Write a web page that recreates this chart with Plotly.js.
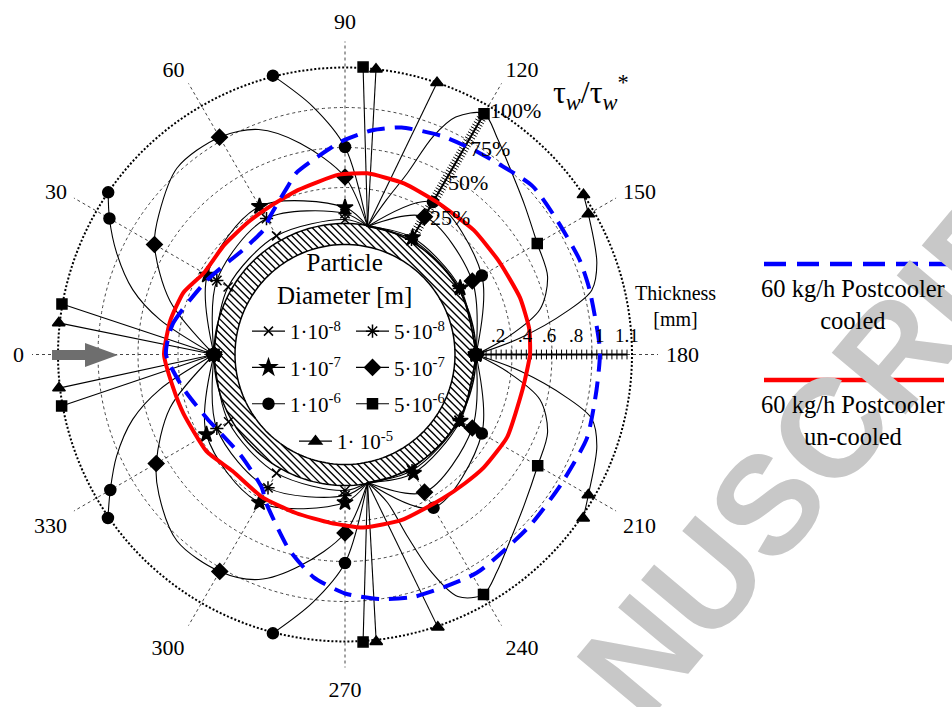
<!DOCTYPE html>
<html><head><meta charset="utf-8">
<script src="https://cdn.plot.ly/plotly-3.0.1.min.js"></script>
<style>html,body{margin:0;padding:0;background:#fff}#chart{width:952px;height:707px}</style>
</head><body><div id="chart"></div>
<script>
// ---------------- data (angle in degrees, radius in chart units) ----------------
const sizeLabels = ['1·10<sup>-8</sup>','5·10<sup>-8</sup>','1·10<sup>-7</sup>','5·10<sup>-7</sup>','1·10<sup>-6</sup>','5·10<sup>-6</sup>','1· 10<sup>-5</sup>'];

const th_1e8 = [0,30,60,90,100,null,100,120,150,180,null,180,210,240,260,null,260,270,300,330,360];
const r_1e8  = [131,135,137,135,130,null,130,131.5,131.5,131,null,131,131.5,132,130,null,130,136,137,134.5,131];

const th_5e8 = [0,30,60,90,100,null,100,120,150,180,null,180,210,240,260,null,260,270,300,330,360];
const r_5e8  = [131,148,157,141,130,null,130,133,132,131,null,131,132,134,130,null,130,141,154,148,131];

const th_1e7 = [0,30,60,90,100,null,100,120,150,180,null,180,210,240,260,null,260,270,300,330,360];
const r_1e7  = [131,159,171,147,130,null,130,135,133,131,null,131,133,137,130,null,130,148,171,160,131];

const th_5e7 = [0,17,30,37,48,60,69,78,90,100,null,100,120,150,180,null,180,210,240,260,null,260,270,282,291,300,312,323,330,343,360];
const r_5e7  = [131,183,220,233,251,251,241,216,177.5,130,null,130,159,147,131,null,131,147,159,130,null,130,178.5,216,241,250.5,251,233,218,183,131];

const th_1e6 = [0,10.6,17,24,30,34.4,null,75.5,82.6,90,100,null,100,120,150,180,null,180,210,240,260,null,260,270,277.4,284.5,null,325.4,330,336,343,349.4,360];
const r_1e6  = [131,188,222,250,272,287,null,288,250,207.5,130,null,130,176,158,131,null,131,158,177,130,null,130,208.5,250,288,null,288,271,250,222,188,131];

const th_5e6 = [0,10.1,null,93.6,100,null,100,105,109,112,115,120,125,131,140,150,159,167,174,180,null,180,186,193,201,210,220,229,235,240,245,248.5,251,254,260,null,260,266.4,null,349.7,360];
const r_5e6  = [131,287.5,null,288,130,null,130,160,192,235,262,278,265,250,234,222,217,200,163,131,null,131,163,200,217,222.5,234,250,265,277,267,232,193,154,130,null,130,288,null,288,131];

const th_1e5 = [0,6.3,null,96.2,100,null,100,108.7,null,146.2,150,160,165.4,169,174.6,180,null,180,185.4,191,194.6,200,210,214.5,null,251.2,260,null,260,263.8,null,353.3,360];
const r_1e5  = [131,288,null,287,130,null,130,287,null,287,281,268,255,226,176,131,null,131,176,226,255,268,281,289,null,288,130,null,130,289,null,288,131];

// deposit thickness curves
const red_th = [0,11,21,30,42,54,63,74,88,97,109,121,136,149,162,172,180,191,207,219,227,236,251,264,275,287,300,314,325,340,349,360];
const red_r  = [181,178,173,163,163,164,166,171,180,182.5,181,178,179,180,184,186,185,181,182,179,176,174,175,174,169,166,165,162,169,172,175,181];
const blue_th = [0,10,28,47,57,62,71,75,89,97,104,114,123,138,148,158,165,179,188,199,211,223,239,254,262,270,278,286,298,302,316,335,348,360];
const blue_r  = [179,175,157,146,149,158,177,188,213,226,234,239,242,252,251,253,253,255,254,256,252,252,255,252,247,239,225,203,168,157,145,152,165,179];

const angleTicks = [0,30,60,90,120,150,180,210,240,270,300,330];
const thickLabels = ['.2','.4','.6','.8','1','1.1'];
const pctLabels = ['25%','50%','75%','100%'];
const seriesNames = ['60 kg/h Postcooler<br>cooled','60 kg/h Postcooler<br>un-cooled'];

// ---------------- helpers ----------------
const W=952, H=707;
const px = x => x/W, py = y => 1 - y/H;
const FONT = 'Liberation Serif, Times New Roman, serif';
const CYL = 131, CYL_IN = 110, BOUND = 287;

function circ(R){ const t=[], r=[]; for(let a=0;a<=360;a+=2){t.push(a); r.push(R);} return {t, r}; }
function markerPts(th, r){ const t=[], q=[]; th.forEach((v,i)=>{ if(v===null) return; if(v%30===0 || r[i]>=286){ t.push(v); q.push(r[i]); } }); return {t, q}; }
function hatch(){
  const t=[], r=[], step=5;
  for(let c=-CYL+step/2; c<CYL; c+=step){
    const to=Math.sqrt(CYL*CYL-c*c);
    const segs = Math.abs(c)<CYL_IN ? [[-to,-Math.sqrt(CYL_IN*CYL_IN-c*c)],[Math.sqrt(CYL_IN*CYL_IN-c*c),to]] : [[-to,to]];
    for(const s of segs){
      for(const u of s){
        const x=(c+u)/Math.SQRT2, yd=(-c+u)/Math.SQRT2;
        const phi=Math.atan2(-yd,x)*180/Math.PI;
        t.push(180-phi); r.push(Math.hypot(x,yd));
      }
      t.push(null); r.push(null);
    }
  }
  return {t, r};
}

const traces = [];
const disk = circ(CYL);
traces.push({type:'scatterpolar', theta:disk.t, r:disk.r, mode:'lines', fill:'toself', fillcolor:'white', line:{width:0,color:'white'}, showlegend:false, hoverinfo:'skip'});
const hz = hatch();
traces.push({type:'scatterpolar', theta:hz.t, r:hz.r, mode:'lines', line:{width:1.4,color:'black'}, connectgaps:false, showlegend:false, hoverinfo:'skip'});
const cIn = circ(CYL_IN);
traces.push({type:'scatterpolar', theta:disk.t, r:disk.r, mode:'lines', line:{width:1.5,color:'black'}, showlegend:false, hoverinfo:'skip'});
traces.push({type:'scatterpolar', theta:cIn.t, r:cIn.r, mode:'lines', line:{width:1.5,color:'black'}, showlegend:false, hoverinfo:'skip'});
const bnd = circ(BOUND);
traces.push({type:'scatterpolar', theta:bnd.t, r:bnd.r, mode:'lines', line:{width:2,color:'black',dash:'2px,2px'}, showlegend:false, hoverinfo:'skip'});

// scales
const thkTickR = []; for(let k=0;k<=30;k++) thkTickR.push(CYL + k*(282-CYL)/30);
traces.push({type:'scatterpolar', theta:[180,180], r:[CYL,282], mode:'lines', line:{width:2,color:'black'}, showlegend:false, hoverinfo:'skip'});
traces.push({type:'scatterpolar', theta:thkTickR.map(()=>180), r:thkTickR, mode:'markers', marker:{symbol:'line-ns', size:7, line:{width:1,color:'black'}}, showlegend:false, hoverinfo:'skip'});
const pctTickR = []; for(let k=0;k<=50;k++) pctTickR.push(CYL + k*(278-CYL)/50);
traces.push({type:'scatterpolar', theta:[120,120], r:[CYL,278], mode:'lines', line:{width:2,color:'black'}, showlegend:false, hoverinfo:'skip'});
traces.push({type:'scatterpolar', theta:pctTickR.map(()=>120), r:pctTickR, mode:'markers', marker:{symbol:'line-ns', size:7, angle:-60, line:{width:1,color:'black'}}, showlegend:false, hoverinfo:'skip'});

const series = [
  {th:th_1e8, r:r_1e8, sym:'x-thin-open', size:9,  legend:'legend'},
  {th:th_5e8, r:r_5e8, sym:'asterisk-open', size:11, legend:'legend2'},
  {th:th_1e7, r:r_1e7, sym:'star', size:12, legend:'legend'},
  {th:th_5e7, r:r_5e7, sym:'diamond', size:12, legend:'legend2'},
  {th:th_1e6, r:r_1e6, sym:'circle', size:11, legend:'legend'},
  {th:th_5e6, r:r_5e6, sym:'square', size:10, legend:'legend2'},
  {th:th_1e5, r:r_1e5, sym:'triangle-up', size:11, legend:'legend3'}
];
series.forEach(s=>{
  traces.push({type:'scatterpolar', theta:s.th, r:s.r, mode:'lines', line:{width:1.1,color:'black',shape:'spline',smoothing:0.9}, connectgaps:false, showlegend:false, hoverinfo:'skip'});
});
series.forEach(s=>{
  const m = markerPts(s.th, s.r);
  traces.push({type:'scatterpolar', theta:m.t, r:m.q, mode:'markers', marker:{symbol:s.sym, size:s.size, color:'black', line:{width:1.5,color:'black'}}, showlegend:false, hoverinfo:'skip'});
});
traces.push({type:'scatterpolar', theta:red_th, r:red_r, mode:'lines', line:{width:4,color:'rgb(255,0,0)',shape:'spline',smoothing:0.5}, showlegend:false, hoverinfo:'skip'});
traces.push({type:'scatterpolar', theta:blue_th, r:blue_r, mode:'lines', line:{width:4,color:'rgb(0,0,255)',dash:'18px,10px',shape:'spline',smoothing:0.6}, showlegend:false, hoverinfo:'skip'});

// legend entries
series.forEach((s,i)=>{
  traces.push({type:'scatterpolar', theta:[null], r:[null], mode:'lines+markers', name:sizeLabels[i], legend:s.legend, legendgroup:'g'+i,
    line:{width:1.2,color:'black'}, marker:{symbol:s.sym, size:s.size, color:'black', line:{width:1.5,color:'black'}}, hoverinfo:'skip'});
});

const legBase = {xanchor:'left', yanchor:'top', bgcolor:'rgba(0,0,0,0)', borderwidth:0, itemwidth:33, font:{family:FONT,size:21,color:'black'}, traceorder:'grouped', tracegroupgap:6, itemclick:false};

const annotations = [];
annotations.push({xref:'paper',yref:'paper',x:px(837),y:py(420),text:'NUSCRIPT',showarrow:false,textangle:-50,font:{family:'Liberation Sans, Arial, sans-serif',size:140,color:'#c8c8c8',weight:'bold'},xanchor:'center',yanchor:'middle'});
annotations.push({xref:'paper',yref:'paper',x:px(344),y:py(279),text:'Particle<br>Diameter [m]',showarrow:false,font:{family:FONT,size:25},xanchor:'center',yanchor:'middle'});
annotations.push({xref:'paper',yref:'paper',x:px(591),y:py(92),text:'τ<sub><i>w</i></sub>/τ<sub><i>w</i></sub><sup>*</sup>',showarrow:false,font:{family:FONT,size:32},xanchor:'center',yanchor:'middle'});
const pctPos = [[450,217],[468,182],[490,148],[515,110]];
pctLabels.forEach((t,i)=>annotations.push({xref:'paper',yref:'paper',x:px(pctPos[i][0]),y:py(pctPos[i][1]),text:t,showarrow:false,font:{family:FONT,size:22},xanchor:'center',yanchor:'middle'}));
const thkX = [498,525,549,576,600,627];
thickLabels.forEach((t,i)=>annotations.push({xref:'paper',yref:'paper',x:px(thkX[i]),y:py(335),text:t,showarrow:false,font:{family:FONT,size:19},xanchor:'center',yanchor:'middle'}));
annotations.push({xref:'paper',yref:'paper',x:px(675),y:py(306),text:'Thickness<br>[mm]',showarrow:false,font:{family:FONT,size:20},xanchor:'center',yanchor:'middle'});
annotations.push({xref:'paper',yref:'paper',x:px(853),y:py(304),text:seriesNames[0],showarrow:false,font:{family:FONT,size:24.5},xanchor:'center',yanchor:'middle'});
annotations.push({xref:'paper',yref:'paper',x:px(853),y:py(420),text:seriesNames[1],showarrow:false,font:{family:FONT,size:24.5},xanchor:'center',yanchor:'middle'});

const shapes = [
  {type:'rect',xref:'paper',yref:'paper',x0:px(52),x1:px(88),y0:py(350),y1:py(360),fillcolor:'#6e6e6e',line:{width:0}},
  {type:'path',xref:'paper',yref:'paper',path:`M ${px(85)},${py(343)} L ${px(118)},${py(355)} L ${px(85)},${py(367)} Z`,fillcolor:'#6e6e6e',line:{width:0}},
  {type:'line',xref:'paper',yref:'paper',x0:px(764),x1:px(952),y0:py(264),y1:py(264),line:{color:'rgb(0,0,255)',width:4.5,dash:'22px,11px'}},
  {type:'line',xref:'paper',yref:'paper',x0:px(764),x1:px(944),y0:py(380),y1:py(380),line:{color:'rgb(255,0,0)',width:4.5}}
];

const layout = {
  width:W, height:H, margin:{l:0,r:0,t:0,b:0}, paper_bgcolor:'white',
  font:{family:FONT,color:'black'},
  showlegend:true,
  polar:{
    domain:{x:[px(32),px(658)], y:[py(667.5),py(41.5)]},
    bgcolor:'white',
    angularaxis:{rotation:180, direction:'clockwise', tickmode:'array', tickvals:angleTicks, ticktext:angleTicks.map(String),
      tickfont:{family:FONT,size:22,color:'black'}, showline:false, ticks:'outside', ticklen:3, tickcolor:'rgba(0,0,0,0)',
      gridcolor:'#444', griddash:'dot', gridwidth:1},
    radialaxis:{range:[0,313], tickmode:'array', tickvals:[167,207,247], showticklabels:false, ticks:'', showline:false,
      gridcolor:'#444', griddash:'dot', gridwidth:1}
  },
  legend:Object.assign({}, legBase, {x:px(247), y:py(311)}),
  legend2:Object.assign({}, legBase, {x:px(351), y:py(311)}),
  legend3:Object.assign({}, legBase, {x:px(294), y:py(421)}),
  annotations, shapes
};

Plotly.newPlot('chart', traces, layout, {staticPlot:true});
</script></body></html>
